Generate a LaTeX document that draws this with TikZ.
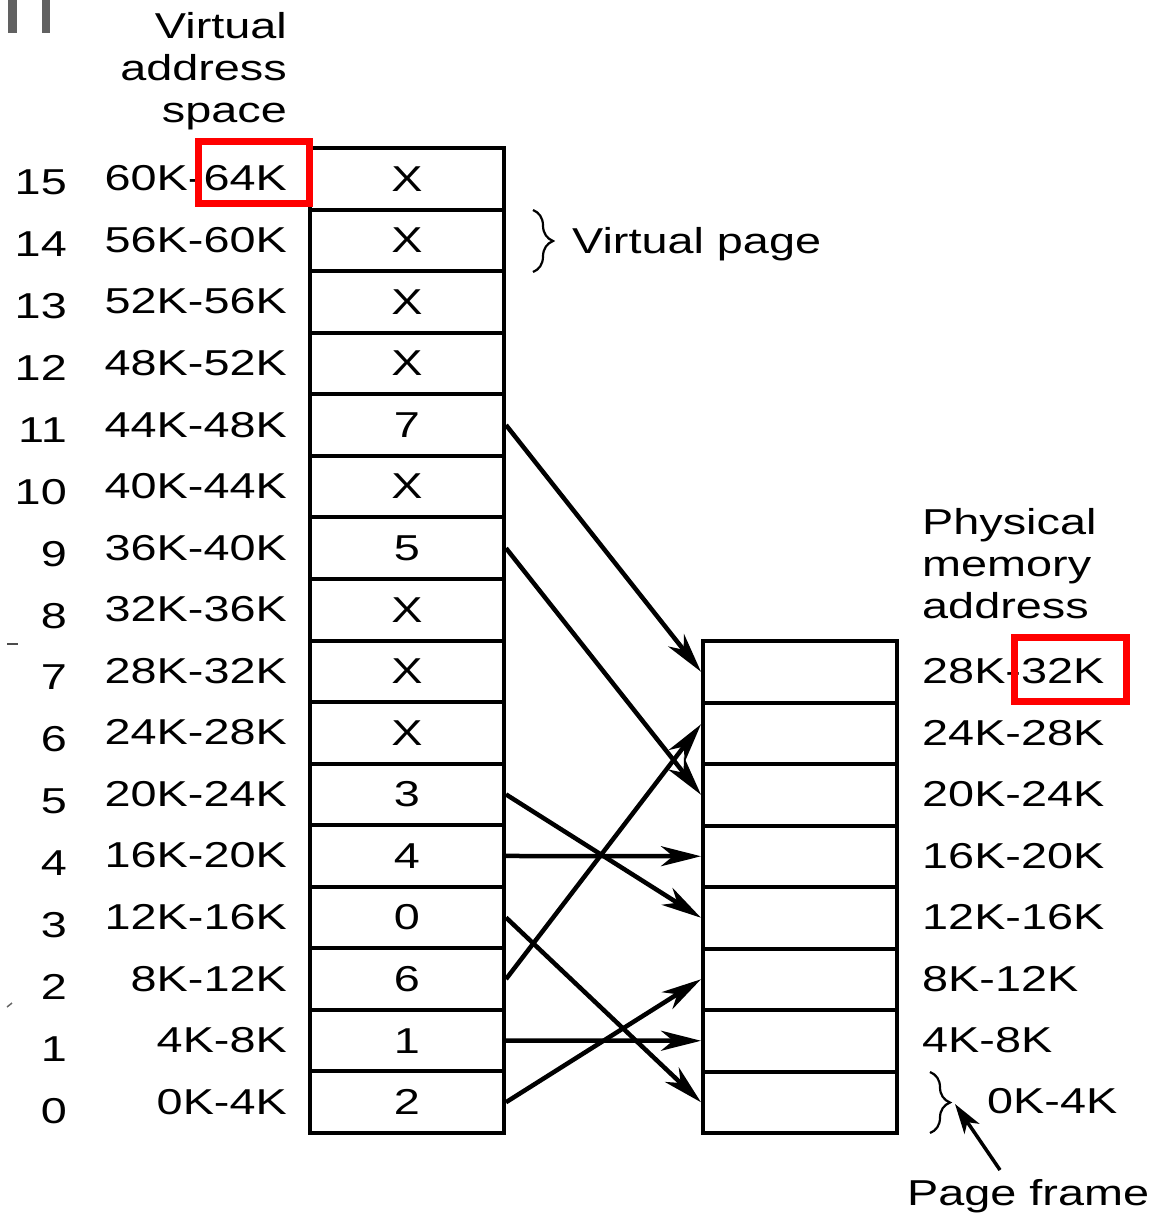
\documentclass[tikz,border=0pt]{standalone}
\usepackage{fontspec}
\setmainfont{Liberation Sans}[FakeStretch=1.3]
\usetikzlibrary{arrows.meta,decorations.pathreplacing}

\tikzset{
  lbl/.style={inner sep=0pt, font=\fontsize{36}{42}\selectfont},
  cell/.style={draw, line width=4pt, minimum width=194pt, minimum height=61.5625pt,
               inner sep=0pt, font=\fontsize{36}{42}\selectfont},
  frame/.style={cell, minimum height=61.5pt},
  maparrow/.style={line width=4.5pt, -{Stealth[length=40pt,width=20pt,inset=12pt]}},
  pointer/.style={line width=3.5pt, -{Stealth[length=30pt,width=18pt,inset=8pt]}},
  bracket/.style={line width=2.2pt, decorate, decoration={brace, amplitude=20pt}},
  highlight/.style={draw=red, line width=7pt},
}

\begin{document}
\begin{tikzpicture}[x=1pt, y=-1pt]
\useasboundingbox (0,0) rectangle (1164,1213);

% scanner marks
\fill[black!62] (8,0) rectangle (17,33);
\fill[black!62] (42,0) rectangle (50,33);
\draw[line width=2pt, black!70] (7,644) -- (18,644);
\draw[line width=1.5pt, black!60] (7,1007) -- (12,1003);

% virtual address space: page table entries
\foreach \c [count=\k from 0] in {2,1,6,0,4,3,X,X,X,5,X,7,X,X,X,X} {
  \node[cell] (v\k) at (407, {1133-(\k+0.5)*61.5625}) {\c};
  \pgfmathtruncatemacro\lo{4*\k}
  \pgfmathtruncatemacro\hi{4*\k+4}
  \node[lbl, anchor=base east] (va\k) at (287, {1133-(\k+0.5)*61.5625+12}) {\lo K-\hi K};
  \node[lbl, anchor=base east] (vn\k) at (67, {1123-\k*61.87}) {\k};
}

% physical memory page frames
\foreach \k in {0,...,7} {
  \node[frame] (p\k) at (800, {1133-(\k+0.5)*61.5}) {};
}
\foreach \k in {1,...,7} {
  \pgfmathtruncatemacro\lo{4*\k}
  \pgfmathtruncatemacro\hi{4*\k+4}
  \node[lbl, anchor=base west] (pa\k) at (922, {1133-(\k+0.5)*61.5+12}) {\lo K-\hi K};
}
\node[lbl, anchor=base west] (pa0) at (987, 1113) {0K-4K};

% headings (base anchor = baseline of the last line)
\node[lbl, anchor=base east, align=right] (vhead) at (287,122) {Virtual\\address\\space};
\node[lbl, anchor=base west, align=left] (phead) at (922,618) {Physical\\memory\\address};

% virtual page annotation
\coordinate (vbt) at (533,210);
\coordinate (vbb) at (533,272);
\draw[bracket] (vbt) -- (vbb);
\node[lbl, anchor=base west] (vpage) at (572,253) {Virtual page};

% page frame annotation
\coordinate (fbt) at (930,1072);
\coordinate (fbb) at (930,1133);
\draw[bracket] (fbt) -- (fbb);
\coordinate (fcusp) at (955,1104);
\node[lbl, anchor=base west] (pframe) at (907,1205) {Page frame};
\draw[pointer] (1000,1170) -- (fcusp);

% mappings
\draw[maparrow] (v11.east) -- (p7.west);
\draw[maparrow] (v9.east) -- (p5.west);
\draw[maparrow] (v5.east) -- (p3.west);
\draw[maparrow] (v4.east) -- (p4.west);
\draw[maparrow] (v3.east) -- (p0.west);
\draw[maparrow] (v2.east) -- ([yshift=9pt]p6.west);
\draw[maparrow] (v1.east) -- (p1.west);
\draw[maparrow] (v0.east) -- (p2.west);

% highlights
\draw[highlight] (198,141) rectangle (309,203);
\draw[highlight] (1014,637) rectangle (1126,701);
\end{tikzpicture}
\end{document}
